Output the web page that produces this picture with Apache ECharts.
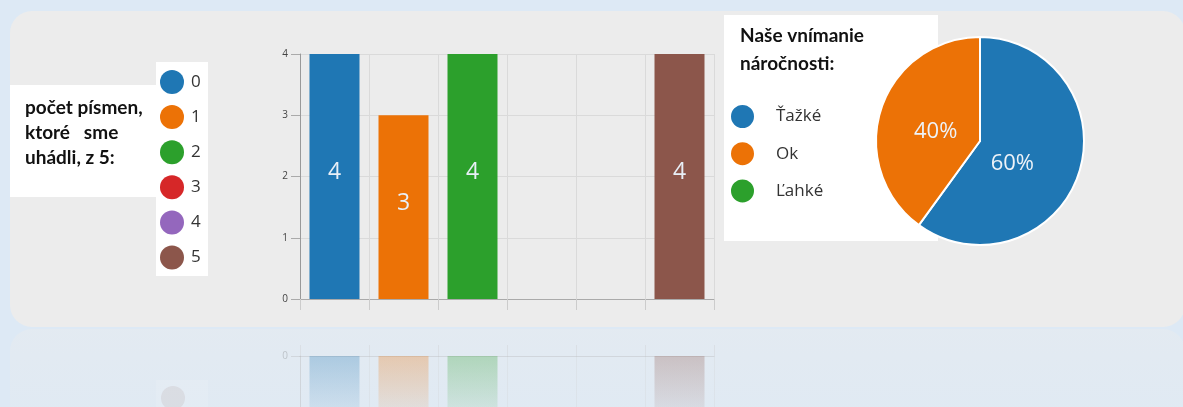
<!DOCTYPE html>
<html>
<head>
<meta charset="utf-8">
<script src="https://cdn.jsdelivr.net/npm/echarts@6/dist/echarts.min.js"></script>
<style>
  html, body { margin: 0; padding: 0; background: #dde9f5; }
  #main { width: 1183px; height: 407px; }
</style>
</head>
<body>
<div id="main"></div>
<script>
// hodnoty grafu
var categories = ['0', '1', '2', '3', '4', '5'];
var counts = [4, 3, 4, 0, 0, 4];
var barColors = ['#1f77b4', '#ec7206', '#2ca02c', '#d62728', '#9467bd', '#8c564b'];
var yTicks = [0, 1, 2, 3, 4];

var pieNames = ['Ťažké', 'Ok', 'Ľahké'];
var pieValues = [60, 40, 0];
var pieColors = ['#1f77b4', '#ec7206', '#2ca02c'];

var chart = echarts.init(document.getElementById('main'));

function fade(hex, a) {
  var n = parseInt(hex.slice(1), 16);
  return 'rgba(' + (n >> 16) + ',' + ((n >> 8) & 255) + ',' + (n & 255) + ',' + a + ')';
}

var series = [];
// stlpce - kazdy pocet ako samostatna seria kvoli legende
categories.forEach(function (c, i) {
  var d = categories.map(function (x, j) { return j === i ? counts[i] : '-'; });
  series.push({
    name: c,
    type: 'bar',
    xAxisIndex: 0, yAxisIndex: 0,
    data: d,
    barWidth: 50,
    barGap: '-100%',
    itemStyle: { color: barColors[i] },
    label: {
      show: counts[i] > 0,
      position: 'inside',
      offset: [0, -4],
      fontSize: 23,
      fontFamily: 'Open Sans',
      color: '#e8eff7'
    }
  });
  // odraz pod panelom
  series.push({
    type: 'bar',
    xAxisIndex: 1, yAxisIndex: 1,
    data: d,
    barWidth: 50,
    barGap: '-100%',
    silent: true,
    itemStyle: {
      color: new echarts.graphic.LinearGradient(0, 0, 0, 1, [
        { offset: 0, color: fade(barColors[i], 0.28) },
        { offset: 1, color: fade(barColors[i], 0.1) }
      ])
    }
  });
});

series.push({
  type: 'pie',
  center: [980, 141],
  radius: 104,
  startAngle: 90,
  data: pieNames.map(function (n, i) {
    return { name: n, value: pieValues[i], itemStyle: { color: pieColors[i] } };
  }),
  itemStyle: { borderColor: '#fff', borderWidth: 2 },
  label: {
    position: 'inside',
    fontSize: 22,
    fontFamily: 'Open Sans',
    color: '#eef3f8',
    formatter: function (p) { return p.value > 0 ? p.value + '%' : ''; }
  },
  labelLayout: function (p) {
    return p.dataIndex === 0 ? { dx: -20, dy: 6 } : { dx: 8, dy: 8 };
  },
  labelLine: { show: false },
  emphasis: { disabled: true }
});

option = {
  backgroundColor: '#dde9f5',
  animation: false,
  graphic: [
    { type: 'rect', z: -10, shape: { x: 10, y: 11, width: 1175, height: 316, r: 22 }, style: { fill: '#ececec' } },
    { type: 'rect', z: -10, shape: { x: 10, y: 329, width: 1175, height: 120, r: 22 },
      style: { fill: new echarts.graphic.LinearGradient(0, 0, 0, 1, [
        { offset: 0, color: 'rgba(236,236,236,0.4)' },
        { offset: 1, color: 'rgba(236,236,236,0.1)' }
      ]) } },
    { type: 'rect', z: -5, shape: { x: 10, y: 85, width: 147, height: 112 }, style: { fill: '#fff' } },
    { type: 'rect', z: -5, shape: { x: 156, y: 62, width: 52, height: 214 }, style: { fill: '#fff' } },
    { type: 'rect', z: -5, shape: { x: 724, y: 15, width: 214, height: 226 }, style: { fill: '#fff' } },
    { type: 'rect', z: -5, shape: { x: 156, y: 380, width: 52, height: 30 },
      style: { fill: 'rgba(255,255,255,0.12)' } },
    { type: 'circle', z: -4, shape: { cx: 173, cy: 398, r: 12 }, style: { fill: 'rgba(140,86,75,0.1)' } },
    { type: 'text', left: 25, top: 95, style: {
        text: 'počet písmen,\nktoré   sme\nuhádli, z 5:',
        font: 'bold 19px Lato', lineHeight: 25, fill: '#111' } },
    { type: 'text', left: 740, top: 22, style: {
        text: 'Naše vnímanie\nnáročnosti:',
        font: 'bold 19px Lato', lineHeight: 28, fill: '#111' } }
  ],
  legend: [
    {
      data: categories,
      orient: 'vertical',
      left: 160, top: 70,
      padding: 0,
      icon: 'circle',
      itemWidth: 24, itemHeight: 24,
      itemGap: 11.1,
      textStyle: { fontSize: 17, fontFamily: 'Open Sans', color: '#333', padding: [0, 0, 0, 2] }
    },
    {
      data: pieNames,
      orient: 'vertical',
      left: 729, top: 103,
      padding: 0,
      icon: 'circle',
      itemWidth: 25, itemHeight: 25,
      itemGap: 10.2,
      textStyle: { fontSize: 17, fontFamily: 'Open Sans', color: '#333', padding: [0, 0, 0, 16] }
    }
  ],
  grid: [
    { left: 300, top: 54, width: 414, height: 245 },
    { left: 300, top: 356, width: 414, height: 51 }
  ],
  xAxis: [
    {
      type: 'category', gridIndex: 0, data: categories,
      axisLine: { lineStyle: { color: '#aaa' } },
      axisTick: { show: true, length: 11, lineStyle: { color: '#ccc' } },
      axisLabel: { show: false },
      splitLine: { show: true, lineStyle: { color: '#dadada' } }
    },
    {
      type: 'category', gridIndex: 1, data: categories,
      axisLine: { lineStyle: { color: 'rgba(170,170,170,0.3)' } },
      axisTick: { show: true, inside: true, length: 11, lineStyle: { color: 'rgba(200,200,200,0.3)' } },
      axisLabel: { show: false },
      splitLine: { show: true, lineStyle: { color: 'rgba(200,200,200,0.2)' } }
    }
  ],
  yAxis: [
    {
      type: 'value', gridIndex: 0,
      min: yTicks[0], max: yTicks[yTicks.length - 1], interval: 1,
      axisLine: { show: true, lineStyle: { color: '#999' } },
      axisTick: { show: true, length: 9, lineStyle: { color: '#aaa' } },
      axisLabel: { fontSize: 10, color: '#444', fontFamily: 'Open Sans', margin: 12 },
      splitLine: { lineStyle: { color: '#dadada' } }
    },
    {
      // odraz: rovnaka mierka (245 px na 4 jednotky), viditelnych len 51 px
      type: 'value', gridIndex: 1, inverse: true,
      min: 0, max: yTicks[yTicks.length - 1] * 51 / 245, interval: 1,
      axisLine: { show: true, lineStyle: { color: 'rgba(160,160,160,0.2)' } },
      axisTick: { show: true, length: 9, lineStyle: { color: 'rgba(170,170,170,0.3)' } },
      axisLabel: { fontSize: 10, color: 'rgba(80,80,80,0.25)', fontFamily: 'Open Sans', margin: 12, showMaxLabel: false },
      splitLine: { show: false }
    }
  ],
  series: series
};

chart.setOption(option);
</script>
</body>
</html>
